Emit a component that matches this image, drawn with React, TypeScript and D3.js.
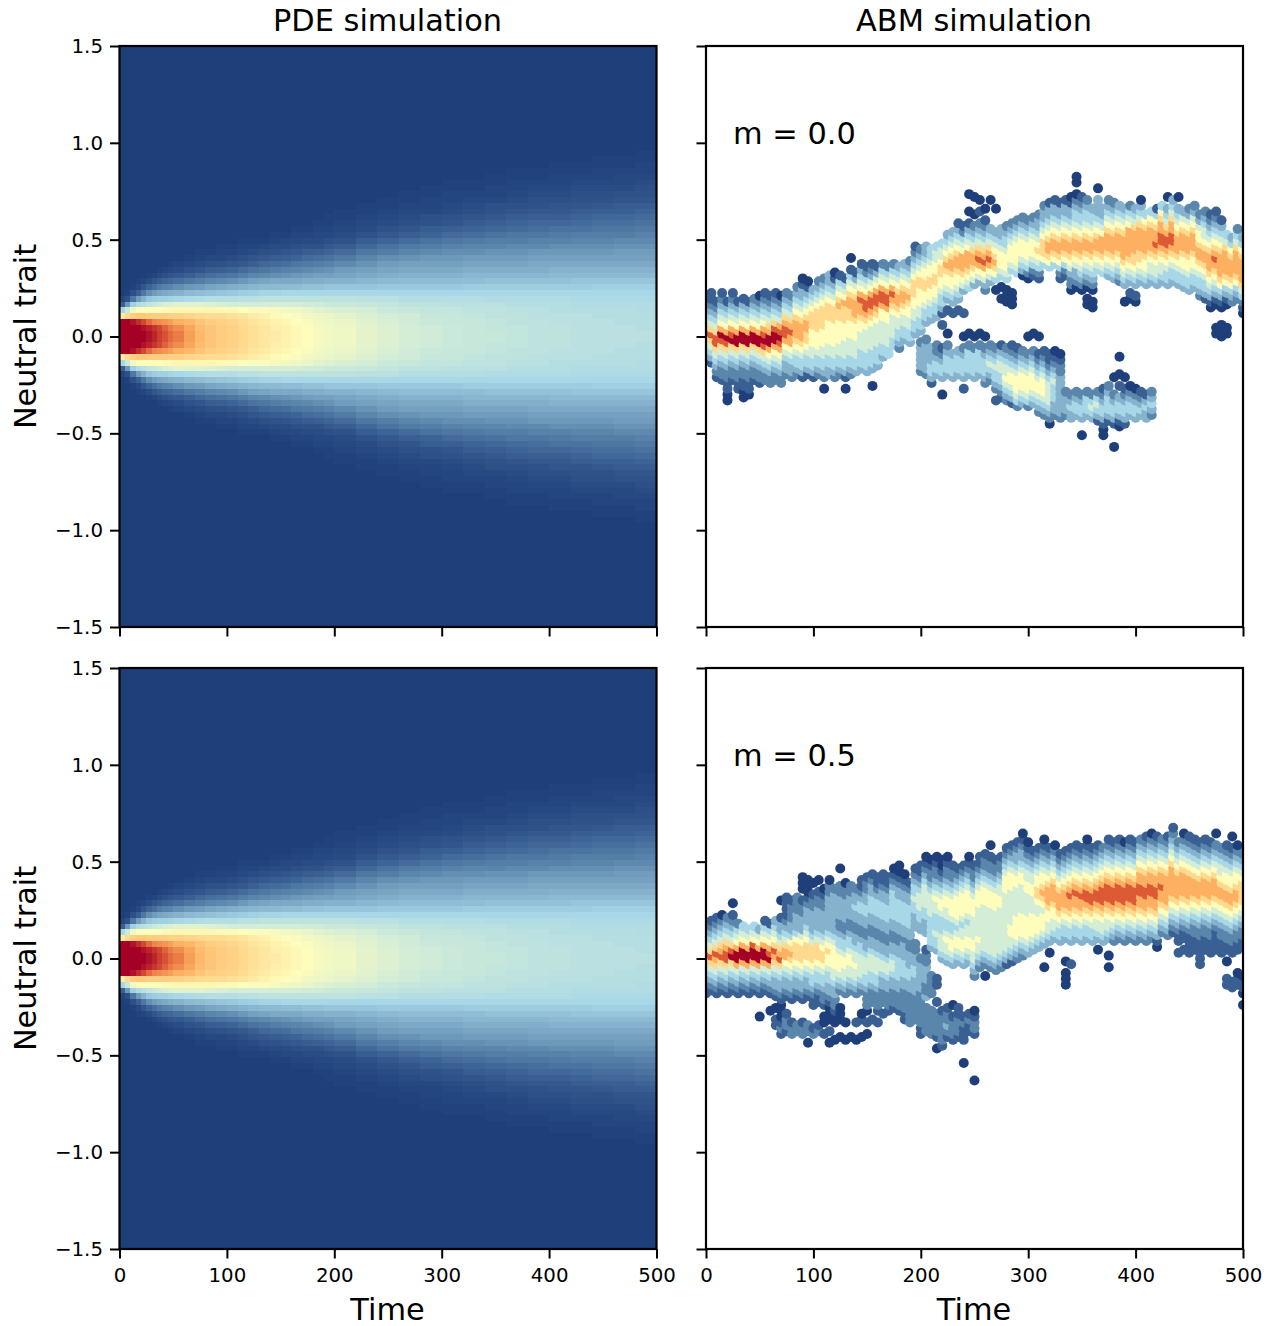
import React, { useEffect, useRef } from 'react';
import * as d3 from 'd3';

const timeTicks = [0, 100, 200, 300, 400, 500];
const traitTicks = [-1.5, -1.0, -0.5, 0.0, 0.5, 1.0, 1.5];
const mLabels = ['m = 0.0', 'm = 0.5'];
const TRAIT_STEP = 0.03;

// colour level stops (0 = navy, 1 = dark red)
const levelStops = [0, 0.1, 0.2, 0.3, 0.4, 0.5, 0.6, 0.7, 0.8, 0.9, 1];
const levelColors = ['#1f3f7b', '#3a6093', '#5b86ac', '#86b2cd', '#a8d8e8', '#d4edd6', '#fffdbc', '#fed98e', '#fdb062', '#dc5a35', '#a50026'];

// PDE field: start time of each column, and colour level (percent) per trait row away from 0
const pdeTimes = [0, 5, 10, 15, 20, 25, 30, 35, 40, 45, 50, 60, 70, 80, 90, 100, 110, 120, 130, 140, 150, 160, 170, 180, 190, 200, 220, 240, 260, 280, 300, 320, 340, 360, 380, 400, 420, 440, 460, 480];
const pdeLevels = [
  [100,100,100,65,40,10,2],
  [100,100,100,70,48,24,5,1],
  [100,100,98,73,57,38,16,5,1],
  [100,100,95,74,60,42,25,10,3,1],
  [100,98,92,74,60,44,30,16,7,2],
  [98,96,88,73,60,46,35,22,11,4,1],
  [96,94,85,73,60,48,37,25,14,7,2],
  [93,92,84,73,60,49,38,27,17,9,4,1],
  [91,89,83,73,61,51,38,28,19,11,5,2],
  [88,86,82,72,61,52,39,29,20,12,7,3,1],
  [86,84,80,72,62,53,40,30,22,14,8,4,2],
  [82,81,78,71,62,53,41,32,24,16,10,6,3,1],
  [78,77,75,70,62,53,42,33,25,18,12,7,4,2,1],
  [75,75,73,69,62,52,43,34,27,20,14,9,5,3,1],
  [73,73,72,69,61,51,43,35,28,21,15,10,6,3,2,1],
  [72,72,71,68,61,50,43,36,29,22,16,11,7,4,2,1],
  [70,70,69,67,60,50,44,37,30,24,18,13,8,5,3,2,1],
  [68,68,67,65,59,50,44,38,31,26,20,15,10,7,4,2,1],
  [66,66,65,63,59,50,45,39,32,27,21,16,12,8,5,3,1],
  [65,64,63,61,58,50,45,39,32,28,22,18,13,9,6,4,2,1],
  [63,63,62,60,57,50,45,40,33,28,23,19,14,10,7,4,3,1],
  [61,61,60,59,56,50,45,40,33,28,24,20,16,11,8,5,3,2,1],
  [60,60,59,57,55,49,45,40,34,29,25,21,17,13,9,6,4,2,1],
  [58,58,57,56,53,49,45,40,34,29,26,22,18,14,10,6,4,3,2,1],
  [57,57,56,55,52,48,45,40,35,30,26,23,19,15,11,8,5,3,2,1,1],
  [56,56,55,54,51,48,45,40,35,30,27,25,21,17,13,9,6,4,3,2,1,1],
  [54,54,53,52,50,47,44,40,35,31,28,26,23,20,16,12,9,6,4,3,2,1,1],
  [52,52,51,50,48,46,44,40,36,32,29,27,25,22,18,15,11,8,6,4,3,2,1,1],
  [50,50,49,49,47,45,43,40,36,33,30,28,26,23,20,17,13,10,7,5,4,3,2,1,1],
  [49,49,48,47,46,45,43,40,36,33,30,28,26,24,21,18,15,11,9,6,5,3,2,2,1,1],
  [48,48,47,47,46,44,43,40,36,33,30,28,26,24,22,19,16,13,10,7,6,4,3,2,2,1,1],
  [47,47,47,46,45,44,43,40,37,33,31,29,27,25,22,20,17,14,11,9,7,5,4,3,2,1,1],
  [47,46,46,45,45,44,42,40,37,34,31,29,27,25,23,20,18,15,12,10,8,6,5,3,2,2,1,1],
  [46,46,45,45,44,43,42,40,37,34,31,29,27,25,23,21,18,16,13,11,9,7,5,4,3,2,2,1,1],
  [45,45,45,44,44,43,42,40,37,34,31,29,28,26,24,21,19,16,14,12,10,8,6,5,4,3,2,1,1],
  [45,45,44,44,43,43,42,40,37,34,32,30,28,26,24,22,19,17,15,12,10,8,7,5,4,3,2,2,1,1],
  [44,44,44,44,43,42,41,40,37,35,32,30,28,26,24,22,20,18,15,13,11,9,7,6,5,4,3,2,1,1],
  [44,44,44,43,43,42,41,40,38,35,32,30,28,26,24,22,20,18,16,14,12,10,8,6,5,4,3,2,2,1,1],
  [44,44,43,43,43,42,41,40,38,35,32,30,28,26,25,23,21,18,16,14,12,10,9,7,6,4,3,3,2,1,1],
  [44,43,43,43,42,42,41,40,38,35,32,30,28,26,25,23,21,19,17,15,13,11,9,7,6,5,4,3,2,2,1,1],
];

// ABM columns: [time, first trait bin, levels upward, ...more runs]; one character per 0.03 bin, "." = empty
type AbmColumn = (number | string)[];
const abmTop: AbmColumn[] = [
  [0,-4,"345787543210"],
  [5,-4.5,"1345797543211"],
  [10,-7,"12345799754321"],
  [15,-7.5,"12234579a8654321"],
  [20,-11,"00112234579a865431"],
  [25,-7.5,"1223457a98654321"],
  [30,-9,"11223457aa865431"],
  [35,-10.5,"0011223457aa865431"],
  [40,-10,"011223457aa865431"],
  [45,-7.5,"1223457aa865432"],
  [50,-8,"1223457aa8654320"],
  [55,-7.5,"2234579a98654321"],
  [60,-8,"2234568aa8754321"],
  [65,-7.5,"2234568aa9754321"],
  [70,-8,"22345689a9854320"],
  [75,-6.5,"233456899875432"],
  [80,-7,"233456889875432"],
  [85,-6.5,"2344567888765432"],
  [90,-7,"134456788876543310"],
  [95,-6.5,"13445677887654310"],
  [100,-7,"1344556667776543"],
  [105,-6.5,"23445666777765432"],
  [110,-9,"0.234455666777765432"],
  [115,-6.5,"334455666677765433"],
  [120,-7,"2344556666777654310"],
  [125,-6.5,"234455666677876541"],
  [130,-9,"0.134455566677786541"],
  [135,-6.5,"2344555666778876541.0"],
  [140,-6,"344555666788876531"],
  [145,-5.5,"3444555667889865431"],
  [150,-6,"3444555567899865421"],
  [155,-8.5,"0..3444555567899865321"],
  [160,-5,"344455556789986531"],
  [165,-3.5,"34455556689986542"],
  [170,-3,"4455556689986542"],
  [175,-1.5,"445555678986542"],
  [180,-2,"234455678876543"],
  [185,-0.5,"34455678876543"],
  [190,-1,"344556678765432"],
  [195,0.5,"3445566777654321"],
  [200,-6,"233332",1,"344556667765432"],
  [205,-6.5,"2333332",2.5,"34456677665433"],
  [210,-8,"1344333",3,"3445667766544"],
  [215,-6.5,"344322",3.5,"3445667766554"],
  [220,-10,"0..344321",2,"1.1344566776554"],
  [225,-6.5,"344432",0.5,"0",4.5,"1.345667876543"],
  [230,-7,"34443",4,"1.3456678876543"],
  [235,-6.5,"34443",4.5,"1.34566788765431"],
  [240,-9,"1.344432",0,"0",4,"1",8,"356788865421"],
  [245,-6.5,"344442",0.5,"0",8.5,"456788865431.0..0"],
  [250,-7,"344442",0,"0",9,"35678875432.0..0"],
  [255,-6.5,"344442",0.5,"0",9.5,"35689875432.1.0"],
  [260,-8,"2344432",0,"0",8,"2356898754321.0"],
  [265,-7.5,"2345432",9.5,"3568987543....0"],
  [270,-11,"1.23445432",8,"0.467876543...0"],
  [275,-10.5,"1234455431",6.5,"0.0.456665433"],
  [280,-11,"2345655432",6,"000.4566654432"],
  [285,-11.5,"13456654321",5.5,"000...456665432"],
  [290,-12,"24566654321",11,"4566665432"],
  [295,-11.5,"3456665432",10.5,"03456665432"],
  [300,-12,"2456665432",0,"0",10,"02456665432"],
  [305,-11.5,"3456665432",0.5,"0",10.5,"12456665432"],
  [310,-13,"23456654321",0,"0",10,"124567654332"],
  [315,-13.5,"234566654321",12.5,"46777654332"],
  [320,-15,"0234555543211",12,"467887654331"],
  [325,-13.5,"233444543210",12.5,"467887654331"],
  [330,-14,"233333332210",10,"12467887654331"],
  [335,-13.5,"23332",10.5,"12467887654331"],
  [340,-14,"33432",8,"02235678876543310"],
  [345,-13.5,"34432",8.5,"02335678876544320.00"],
  [350,-17,"0..34432",8,"02345678876544321"],
  [355,-13.5,"34442",5.5,"00.0234567887654432"],
  [360,-14,"34542",5,"00.023456788765443"],
  [365,-14.5,"134542",11.5,"4567887654333.0"],
  [370,-17,"001344321",11,"456788865433"],
  [375,-14.5,"1344432",10.5,"34567888765432"],
  [380,-19,"0...134432..0",10,"34567888765432"],
  [385,-15.5,"013443.1.0..0",9.5,"23456788876543"],
  [390,-15,"1344321.0",6,"0..34567888876543"],
  [395,-13.5,"344320",6.5,"01.34567888886542"],
  [400,-14,"344320",6,"01.34567788887543"],
  [405,-13.5,"34321",9.5,"345677888875430"],
  [410,-14,"33431",9,"3456678888764"],
  [415,-13.5,"23432",9.5,"3455678888764"],
  [420,9,"34556789887641"],
  [425,9.5,"34556789988764"],
  [430,9,"34456789987543.0"],
  [435,9.5,"344567899887543"],
  [440,9,"34456788876543.0"],
  [445,8.5,"34456678887653"],
  [450,8,"344566788876532"],
  [455,8.5,"344566788876532"],
  [460,7,"234456788766532"],
  [465,6.5,"1344567887655432"],
  [470,5,"01345678887654321"],
  [475,0.5,"00...01345678987654321"],
  [480,0,"000..0134678888765431"],
  [485,0.5,"00...0134678888754"],
  [490,6,"234678887643"],
  [495,6.5,"2346788887542"],
  [500,4,"01245788887643"],
];

const abmBottom: AbmColumn[] = [
  [0,-6,"123457875432"],
  [5,-5.5,"1234579754321"],
  [10,-6,"12345789754321"],
  [15,-5.5,"12345798754320"],
  [20,-6,"12345799875432"],
  [25,-5.5,"123457a9754321.0"],
  [30,-6,"123458aa86542"],
  [35,-5.5,"123458aa8654"],
  [40,-6,"123458aa8654"],
  [45,-5.5,"123458aa9654"],
  [50,-10,"0...123458aa8653"],
  [55,-5.5,"123458aa86541"],
  [60,-9,"0..123458a986541"],
  [65,-11.5,"11.0.12334578976543"],
  [70,-13,"121000123345798754331..0"],
  [75,-12.5,"1221..123345688754321111"],
  [80,-13,"221...123345678764332221"],
  [85,-12.5,"22....123345677764333222"],
  [90,-13,"221...123345677765333221.000"],
  [95,-14.5,"0.22....123345677765433321000"],
  [100,-13,"21...11234456777543333221.0"],
  [105,-12.5,"21...11234456777543333221.0"],
  [110,-13,"1.00.122344567765433332210"],
  [115,-14.5,"0.1.0001233445667654333333220"],
  [120,-14,"0..001223345566665433333332"],
  [125,-13.5,"0..000..2345666544322333322..0"],
  [130,-14,"0..0....23455665443223333220"],
  [135,-13.5,"0.......2345566544322333322"],
  [140,-14,"0..1....2345565543322334332"],
  [145,-13.5,"0..10...23455554432233443211"],
  [150,-13,"0.1.022234455543322334433221"],
  [155,-10.5,"1..22234455543322334443321"],
  [160,-11,"1.122234455543322334443211"],
  [165,-9.5,"1.22233455433223344433211"],
  [170,-9,"122233455433223344433211"],
  [175,-8.5,"1222334554332233444443210"],
  [180,-9,"12223344443322334444332100"],
  [185,-10.5,"11222233444333233444433210"],
  [190,-11,"2222223344333223344443321"],
  [195,-10.5,"22222333443322",5.5,"33344544321"],
  [200,-13,"11222222333332",5,"334455543211"],
  [205,-12.5,"22222.322333221",4.5,"33344555543210"],
  [210,-13,"22222..2222",2,"3444445555432210"],
  [215,-15.5,"0.12222 1..11",1.5,"34454445565432210"],
  [220,-15,"1222221",0,"345554445665432100"],
  [225,-13.5,"123221",-0.5,"3455654455665432210"],
  [230,-14,"12221.0",-1,"345665445666543221"],
  [235,-13.5,"122211",-0.5,"34566545666654321"],
  [240,-18,"0...11121",-1,"345665545666654321"],
  [245,-12.5,"1121",-0.5,"3456655456666543210"],
  [250,-21,"0",-13,"12210",-3,"23455665555666543221"],
  [255,-1.5,"23455655555666543211"],
  [260,-3,"0.23455555555666543221"],
  [265,-1.5,"23455555555666543221.0"],
  [270,-2,"23455555555666543221"],
  [275,-1.5,"23455555555665543221"],
  [280,-1,"134555555555566654321"],
  [285,-0.5,"134556655555566654321"],
  [290,0,"234566665555566543321"],
  [295,0.5,"2345666655555665433210"],
  [300,1,"34566665555665543210"],
  [305,1.5,"345666655566554321"],
  [310,2,"345666556776654321"],
  [315,-1.5,"0...3456665678766543210"],
  [320,1,"0.34556678887654321"],
  [325,3.5,"34556678887654320"],
  [330,3,"3445678887654321"],
  [335,-4.5,"000.0...3445678887654321"],
  [340,-1,"1...34456788987654321"],
  [345,3.5,"34456788987654321"],
  [350,3,"34456788987654321"],
  [355,3.5,"344567899876543210"],
  [360,3,"34456789987654321"],
  [365,1.5,"0.34556789987654321"],
  [370,3,"34556789998765432"],
  [375,-1.5,"0.0..345567899987654321"],
  [380,3,"234567899987654321"],
  [385,3.5,"234567899987654321"],
  [390,3,"234567899987654320"],
  [395,3.5,"234567899987654321"],
  [400,3,"234567899987654321"],
  [405,3.5,"234567889988765432"],
  [410,3,"2345678899887654321"],
  [415,3.5,"2345678899887654320"],
  [420,2,"01345678899887654321"],
  [425,4.5,"23456788988765432"],
  [430,4,"234567888887654321"],
  [435,4.5,"1234567888887654321"],
  [440,1,"1.112345678888765432"],
  [445,1.5,"1.1123456788887654320"],
  [450,1,"111123456788887654321"],
  [455,1.5,"11122345678887654321"],
  [460,-1,"1111122345678887654321"],
  [465,1.5,"11122345678887654321"],
  [470,1,"11122345678887654321"],
  [475,1.5,"1111234567888765432.0"],
  [480,1,"1112234567887655432"],
  [485,-4.5,"11..0.1122345678876654321"],
  [490,-5,"11....1122345678876654321.0"],
  [495,-4.5,"110...1122345678876654320"],
  [500,-8,"0.0110....11223456777765432"],
];

const xLeft = d3.scaleLinear().domain([0, 500]).range([119.5, 656.5]);
const xRight = d3.scaleLinear().domain([0, 500]).range([706, 1243]);
const yTop = d3.scaleLinear().domain([-1.5, 1.5]).range([627, 46]);
const yBottom = d3.scaleLinear().domain([-1.5, 1.5]).range([1249, 668]);
const cmap = d3.scaleLinear<string>().domain(levelStops).range(levelColors).clamp(true);

const FONT = '"DejaVu Sans"';

const Axis = ({ scale, side, at, labels, values }: any) => {
  const ref = useRef<SVGGElement>(null);
  useEffect(() => {
    const make = side === 'bottom' ? d3.axisBottom(scale) : d3.axisLeft(scale);
    make.tickValues(values).tickSize(9.5).tickPadding(side === 'bottom' ? 9 : 7)
      .tickFormat(labels ? (side === 'bottom' ? d3.format('d') : d3.format('.1f')) as any : () => '');
    const g = d3.select(ref.current!).call(make as any);
    g.select('.domain').remove();
    g.selectAll('line').attr('stroke', '#000').attr('stroke-width', 2);
    g.selectAll('text').attr('fill', '#000').style('font-family', FONT).style('font-size', '19.8px');
  }, []);
  return <g ref={ref} transform={side === 'bottom' ? `translate(0,${at})` : `translate(${at},0)`} />;
};

const Frame = ({ x, y }: any) => (
  <rect x={x.range()[0]} y={y.range()[1]} width={x.range()[1] - x.range()[0]} height={y.range()[0] - y.range()[1]}
    fill="none" stroke="#000" strokeWidth={2.2} />
);

const Heatmap = ({ x, y }: any) => {
  const cells: React.ReactElement[] = [];
  pdeLevels.forEach((col, c) => {
    const x0 = x(pdeTimes[c]);
    const x1 = x(c + 1 < pdeTimes.length ? pdeTimes[c + 1] : 500);
    col.forEach((level, r) => {
      [1, -1].forEach((sign) => {
        const a = y(sign * r * TRAIT_STEP);
        const b = y(sign * (r + 1) * TRAIT_STEP);
        cells.push(
          <rect key={`${c}-${r}-${sign}`} x={x0} width={x1 - x0} y={Math.min(a, b)} height={Math.abs(b - a)}
            fill={cmap(level / 100)} shapeRendering="crispEdges" />
        );
      });
    });
  });
  return (
    <g>
      <rect x={x.range()[0]} y={y.range()[1]} width={x.range()[1] - x.range()[0]} height={y.range()[0] - y.range()[1]} fill={cmap(0)} />
      {cells}
    </g>
  );
};

const Dots = ({ columns, x, y, id }: any) => {
  const dots: React.ReactElement[] = [];
  columns.forEach((col: AbmColumn) => {
    const t = col[0] as number;
    for (let s = 1; s < col.length; s += 2) {
      const start = col[s] as number;
      (col[s + 1] as string).split('').forEach((ch, i) => {
        const lv = parseInt(ch, 36);
        if (isNaN(lv)) return;
        dots.push(<circle key={`${t}-${s}-${i}`} cx={x(t)} cy={y((start + i) * TRAIT_STEP)} r={5} fill={cmap(lv / 10)} />);
      });
    }
  });
  return (
    <g>
      <clipPath id={id}>
        <rect x={x.range()[0]} y={y.range()[1]} width={x.range()[1] - x.range()[0]} height={y.range()[0] - y.range()[1]} />
      </clipPath>
      <g clipPath={`url(#${id})`}>{dots}</g>
    </g>
  );
};

export default function App() {
  const rows = [
    { y: yTop, abm: abmTop, m: mLabels[0], id: 'clip-top', xLabels: false },
    { y: yBottom, abm: abmBottom, m: mLabels[1], id: 'clip-bottom', xLabels: true },
  ];
  return (
    <svg width={1270} height={1326} style={{ position: 'absolute', left: 0, top: 0, display: 'block' }} fontFamily={FONT}>
      <rect width={1270} height={1326} fill="#fff" />
      {rows.map((row) => (
        <g key={row.id}>
          <Heatmap x={xLeft} y={row.y} />
          <Dots columns={row.abm} x={xRight} y={row.y} id={row.id} />
          <Frame x={xLeft} y={row.y} />
          <Frame x={xRight} y={row.y} />
          <Axis scale={row.y} side="left" at={119.5} labels values={traitTicks} />
          <Axis scale={row.y} side="left" at={706} labels={false} values={traitTicks} />
          <Axis scale={xLeft} side="bottom" at={row.y.range()[0]} labels={row.xLabels} values={timeTicks} />
          <Axis scale={xRight} side="bottom" at={row.y.range()[0]} labels={row.xLabels} values={timeTicks} />
          <text x={733} y={row.y(0) - 193} fontSize={30.4} fill="#000">{row.m}</text>
          <text transform={`translate(36,${row.y(0)}) rotate(-90)`} textAnchor="middle" fontSize={30.4} fill="#000">Neutral trait</text>
        </g>
      ))}
      <text x={387.5} y={31} textAnchor="middle" fontSize={30.4} fill="#000">PDE simulation</text>
      <text x={974} y={31} textAnchor="middle" fontSize={30.4} fill="#000">ABM simulation</text>
      <text x={387.5} y={1320} textAnchor="middle" fontSize={30.4} fill="#000">Time</text>
      <text x={974} y={1320} textAnchor="middle" fontSize={30.4} fill="#000">Time</text>
    </svg>
  );
}
